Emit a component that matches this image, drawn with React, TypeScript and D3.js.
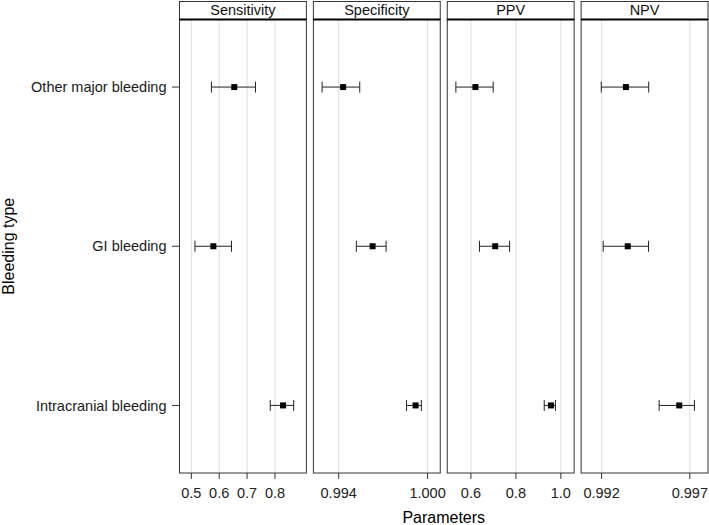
import React from "react";
import * as d3 from "d3";

const categories = ["Other major bleeding", "GI bleeding", "Intracranial bleeding"];
const panels = ["Sensitivity", "Specificity", "PPV", "NPV"];

const sensEst = [0.654, 0.579, 0.829];
const sensLo = [0.572, 0.513, 0.783];
const sensHi = [0.730, 0.644, 0.867];

const specEst = [0.9943, 0.99629, 0.99919];
const specLo = [0.99288, 0.99519, 0.99858];
const specHi = [0.99542, 0.9972, 0.99958];

const ppvEst = [0.62, 0.708, 0.956];
const ppvLo = [0.533, 0.638, 0.926];
const ppvHi = [0.699, 0.772, 0.976];

const npvEst = [0.99338, 0.99348, 0.9964];
const npvLo = [0.99198, 0.99209, 0.99526];
const npvHi = [0.99467, 0.99466, 0.99726];

const panelDomains: [number, number][] = [
  [0.4576, 0.9126],
  [0.99229, 1.000856],
  [0.4947, 1.059],
  [0.99084, 0.99803],
];
const panelTicks = [
  [0.5, 0.6, 0.7, 0.8],
  [0.994, 1.0],
  [0.6, 0.8, 1.0],
  [0.992, 0.997],
];
const panelTickLabels = [
  ["0.5", "0.6", "0.7", "0.8"],
  ["0.994", "1.000"],
  ["0.6", "0.8", "1.0"],
  ["0.992", "0.997"],
];

const estimates = [sensEst, specEst, ppvEst, npvEst];
const lowers = [sensLo, specLo, ppvLo, npvLo];
const uppers = [sensHi, specHi, ppvHi, npvHi];

const W = 709;
const H = 525;
const plotLeft = 179.5;
const plotRight = 708;
const gap = 7;
const headerTop = 1.5;
const panelTop = 19.5;
const panelBottom = 473;
const font = "'Liberation Sans', Arial, sans-serif";

export default function App() {
  const panelW = (plotRight - plotLeft - gap * 3) / 4;
  const y = d3
    .scalePoint<string>()
    .domain(categories)
    .range([panelTop, panelBottom])
    .padding(0.4245);

  return (
    <svg
      width={W}
      height={H}
      style={{ position: "absolute", left: 0, top: 0, background: "#fff" }}
      fontFamily={font}
    >
      <rect x={0} y={0} width={W} height={H} fill="#fff" />
      <text
        transform={`translate(13.5, ${(panelTop + panelBottom) / 2}) rotate(-90)`}
        textAnchor="middle"
        fontSize={16}
        fill="#000"
      >
        Bleeding type
      </text>
      {categories.map((c) => (
        <g key={c}>
          <text
            x={166.5}
            y={y(c)!}
            dy="0.35em"
            textAnchor="end"
            fontSize={14.5}
            fill="#1a1a1a"
          >
            {c}
          </text>
          <line x1={172} x2={plotLeft} y1={y(c)!} y2={y(c)!} stroke="#333" strokeWidth={1} />
        </g>
      ))}
      {panels.map((p, i) => {
        const x0 = plotLeft + i * (panelW + gap);
        const x = d3.scaleLinear().domain(panelDomains[i]).range([x0, x0 + panelW]);
        return (
          <g key={p}>
            {panelTicks[i].map((t) => (
              <line
                key={t}
                x1={x(t)}
                x2={x(t)}
                y1={panelTop}
                y2={panelBottom}
                stroke="#dedede"
                strokeWidth={1}
              />
            ))}
            {categories.map((c, j) => {
              const cy = y(c)!;
              const lo = x(lowers[i][j]);
              const hi = x(uppers[i][j]);
              const est = x(estimates[i][j]);
              return (
                <g key={c}>
                  <line x1={lo} x2={hi} y1={cy} y2={cy} stroke="#222" strokeWidth={1} />
                  <line x1={lo} x2={lo} y1={cy - 5.5} y2={cy + 5.5} stroke="#222" strokeWidth={1} />
                  <line x1={hi} x2={hi} y1={cy - 5.5} y2={cy + 5.5} stroke="#222" strokeWidth={1} />
                  <rect x={est - 3} y={cy - 3} width={6} height={6} fill="#000" />
                </g>
              );
            })}
            <rect
              x={x0}
              y={panelTop}
              width={panelW}
              height={panelBottom - panelTop}
              fill="none"
              stroke="#333"
              strokeWidth={1}
            />
            <rect
              x={x0}
              y={headerTop}
              width={panelW}
              height={panelTop - headerTop}
              fill="#fff"
              stroke="#333"
              strokeWidth={1}
            />
            <line x1={x0} x2={x0 + panelW} y1={panelTop} y2={panelTop} stroke="#000" strokeWidth={2} />
            <text
              x={x0 + panelW / 2}
              y={15}
              textAnchor="middle"
              fontSize={14.5}
              fill="#111"
            >
              {p}
            </text>
            {panelTicks[i].map((t, k) => (
              <g key={t}>
                <line x1={x(t)} x2={x(t)} y1={panelBottom} y2={panelBottom + 6} stroke="#333" strokeWidth={1} />
                <text
                  x={x(t)}
                  y={497.5}
                  textAnchor="middle"
                  fontSize={14.5}
                  fill="#222"
                >
                  {panelTickLabels[i][k]}
                </text>
              </g>
            ))}
          </g>
        );
      })}
      <text
        x={(plotLeft + plotRight) / 2}
        y={523}
        textAnchor="middle"
        fontSize={16}
        fill="#000"
      >
        Parameters
      </text>
    </svg>
  );
}
